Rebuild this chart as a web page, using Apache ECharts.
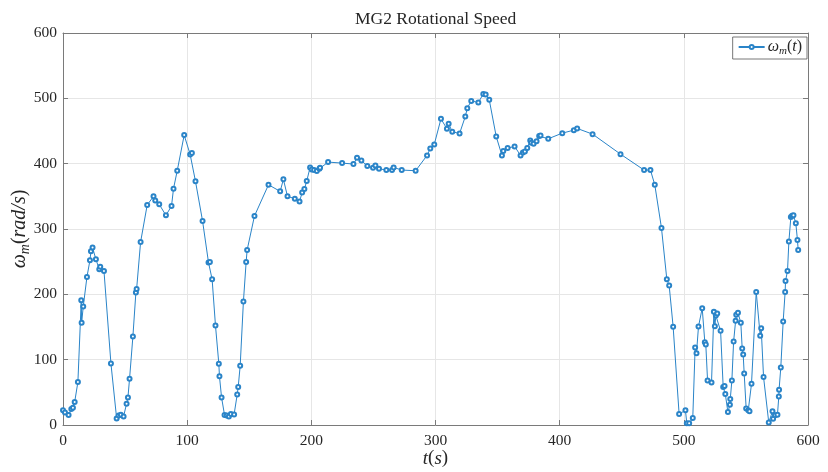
<!DOCTYPE html>
<html>
<head>
<meta charset="utf-8">
<script src="https://cdn.jsdelivr.net/npm/echarts@6/dist/echarts.min.js"></script>
<style>
  html, body { margin: 0; padding: 0; background: #fff; }
  #chart { width: 828px; height: 472px; }
</style>
</head>
<body>
<div id="chart"></div>
<script>
// Time samples (s)
const timeS = [
  0,1.6,4.5,6.7,8.0,9.4,12.0,14.7,15.0,16.3,
  19.3,21.7,22.5,23.8,26.5,29.2,30.0,33.0,38.6,43.2,
  44.8,46.6,48.8,51.2,52.3,53.6,56.3,58.7,59.3,62.5,
  67.8,72.9,74.3,77.5,82.9,87.4,89.0,92.0,97.6,102.4,
  103.8,106.7,112.4,117.2,118.3,120.1,122.8,125.5,126.0,127.7,
  130.1,131.9,133.6,135.2,137.8,140.3,141.1,142.7,145.3,147.5,
  148.3,154.2,165.5,174.9,177.5,180.8,186.7,190.5,192.6,194.4,
  196.3,199.0,200.3,202.2,204.4,206.5,207.0,213.5,224.8,233.9,
  236.8,240.3,245.1,249.7,251.6,254.5,260.4,265.0,266.3,272.8,
  284.0,293.2,295.8,299.0,304.4,309.2,310.6,313.5,319.4,324.0,
  325.6,328.8,334.5,338.5,340.4,343.3,348.9,353.5,354.6,358.1,
  363.7,368.5,370.4,372.0,373.9,376.3,377.1,379.0,381.4,383.5,
  384.6,390.8,402.1,411.4,414.1,426.5,449.0,468.0,473.1,476.6,
  482.0,486.3,488.2,491.4,496.2,501.3,502.4,504.3,507.2,509.1,
  510.2,511.8,514.8,516.9,517.7,519.1,522.3,524.2,525.0,525.8,
  526.9,529.6,531.7,532.8,533.4,535.5,537.1,537.4,538.7,540.1,
  541.7,542.2,543.6,545.9,547.0,547.8,548.6,550.2,551.9,552.9,
  554.5,558.3,561.5,562.3,564.2,568.4,571.4,571.9,573.5,575.4,
  576.5,576.7,578.1,580.0,581.6,581.9,583.5,584.6,586.2,587.2,
  588.3,590.2,591.5,592.1
];

// MG2 rotational speed (rad/s)
const omegaM = [
  22.4,19.3,15.2,24.4,26.4,35.1,65.7,191,156.4,181.3,
  226.7,252.1,265.9,271.5,253.7,238.4,242.4,235.8,94.2,10.1,
  14.7,15.7,13.2,32.6,42.2,70.8,135.5,202.7,208.3,280.1,
  336.7,350,343.8,337.7,320.9,335.2,361.7,389.2,443.7,414.1,
  416.2,372.9,312.2,248.6,249.6,223.1,152.3,93.7,74.8,42.2,
  15.2,14.7,13.2,16.8,16.2,46.8,58,90.6,188.9,249.6,
  267.8,319.9,367.7,357.6,376,350,346.4,342,356,361.2,
  373.4,394.3,391.2,390.2,388.7,392.2,393.8,402.4,400.9,399.4,
  409,405,396.3,393.8,397.3,392.2,390.2,390.2,394.3,390.2,
  389.2,412.6,423.3,429.4,468.6,453.4,461,448.8,446.2,472.2,
  485,496.1,493.6,506.8,505.8,497.7,441.6,412.6,419.2,423.8,
  426.4,412.6,417.2,418.7,423.8,435.5,432,430.4,434.5,442.2,
  443.2,438.1,446.7,451.3,453.9,445.2,414.6,390.2,390.2,367.8,
  301.5,223.1,213.4,150.2,16.8,22.4,2.5,2.5,10.6,118.6,
  110,150.7,178.8,126.8,123.2,68.2,65.1,173.2,151.2,167.5,
  170.5,144.1,58,59.6,47.4,19.8,31,39.7,68.2,127.8,
  159.4,168.6,171.7,156.4,117.1,108,78.9,25.4,22.4,20.9,
  63.1,203.7,136.5,148.2,73.3,4,20.9,9.7,14.8,15.8,
  43.8,54,88.1,158.4,203.7,220.5,235.8,280.7,318.4,320.4,
  320.9,308.7,283.2,267.9
];

const xTicks = [0, 100, 200, 300, 400, 500, 600];
const yTicks = [0, 100, 200, 300, 400, 500, 600];

const FONT = '"Liberation Serif", "DejaVu Serif", serif';
const AXIS_COLOR = '#7a7a7a';
const TEXT_COLOR = '#262626';
const LINE_COLOR = '#2a84c8';

// Math-style rich text: italic symbols, subscript, upright parentheses
function mathRich(size) {
  return {
    i: { fontFamily: FONT, fontStyle: 'italic', fontSize: size, color: TEXT_COLOR, lineHeight: size + 4 },
    p: { fontFamily: FONT, fontSize: size, color: TEXT_COLOR, lineHeight: size + 4 },
    s: { fontFamily: FONT, fontStyle: 'italic', fontSize: Math.round(size * 0.68), color: TEXT_COLOR,
         lineHeight: Math.round(size * 0.68), verticalAlign: 'bottom' }
  };
}

const points = timeS.map((t, k) => [t, omegaM[k]]);

function frameAxis(base, pos) {
  return Object.assign({
    type: 'value',
    min: 0, max: 600, interval: 100,
    position: pos,
    axisLine: { show: true, onZero: false, lineStyle: { color: AXIS_COLOR, width: 1 } },
    axisTick: { show: true, inside: true, length: 5, lineStyle: { color: AXIS_COLOR } },
    axisLabel: { show: false },
    splitLine: { show: false }
  }, base);
}

const chart = echarts.init(document.getElementById('chart'), null, { renderer: 'canvas' });
chart.setOption({
  animation: false,
  backgroundColor: '#fff',
  title: {
    text: 'MG2 Rotational Speed',
    left: 350, top: 5,
    textStyle: { fontFamily: FONT, fontSize: 17.5, fontWeight: 'normal', color: TEXT_COLOR }
  },
  grid: { left: 63, right: 20, top: 33, bottom: 47, containLabel: false, outerBoundsMode: 'none' },
  legend: {
    right: 21, top: 37,
    orient: 'vertical',
    backgroundColor: '#fff',
    borderColor: '#555',
    borderWidth: 0.8,
    borderRadius: 0,
    padding: [2, 5, 2, 5],
    itemWidth: 26, itemHeight: 5, itemGap: 0,
    formatter: () => '{i|ω}{s|m}{p|(}{i|t}{p|)}',
    textStyle: { rich: mathRich(16), padding: [0, 0, 0, -2] },
    data: ['omega']
  },
  xAxis: [
    frameAxis({
      name: '{i|t}{p|(}{i|s}{p|)}',
      nameLocation: 'middle', nameGap: 22, nameMoveOverlap: false,
      nameTextStyle: { rich: mathRich(19) },
      axisLabel: {
        show: true, margin: 8,
        fontFamily: FONT, fontSize: 15.5, color: TEXT_COLOR,
        formatter: v => xTicks.includes(v) ? String(v) : ''
      },
      splitLine: { show: true, lineStyle: { color: '#e6e6e6', width: 1 } }
    }, 'bottom'),
    frameAxis({}, 'top')
  ],
  yAxis: [
    frameAxis({
      name: '{i|ω}{s|m}{p|(}{i|rad/s}{p|)}',
      nameLocation: 'middle', nameGap: 31, nameRotate: 90, nameMoveOverlap: false,
      nameTextStyle: { rich: mathRich(20) },
      axisLabel: {
        show: true, margin: 6,
        fontFamily: FONT, fontSize: 15.5, color: TEXT_COLOR,
        formatter: v => yTicks.includes(v) ? String(v) : ''
      },
      splitLine: { show: true, lineStyle: { color: '#e6e6e6', width: 1 } }
    }, 'left'),
    frameAxis({}, 'right')
  ],
  series: [{
    name: 'omega',
    type: 'line',
    data: points,
    xAxisIndex: 0, yAxisIndex: 0,
    symbol: 'emptyCircle',
    symbolSize: 4,
    showAllSymbol: true,
    lineStyle: { color: LINE_COLOR, width: 1 },
    itemStyle: { color: LINE_COLOR, borderColor: LINE_COLOR, borderWidth: 0.9 },
    emphasis: { disabled: true }
  }]
});
</script>
</body>
</html>
